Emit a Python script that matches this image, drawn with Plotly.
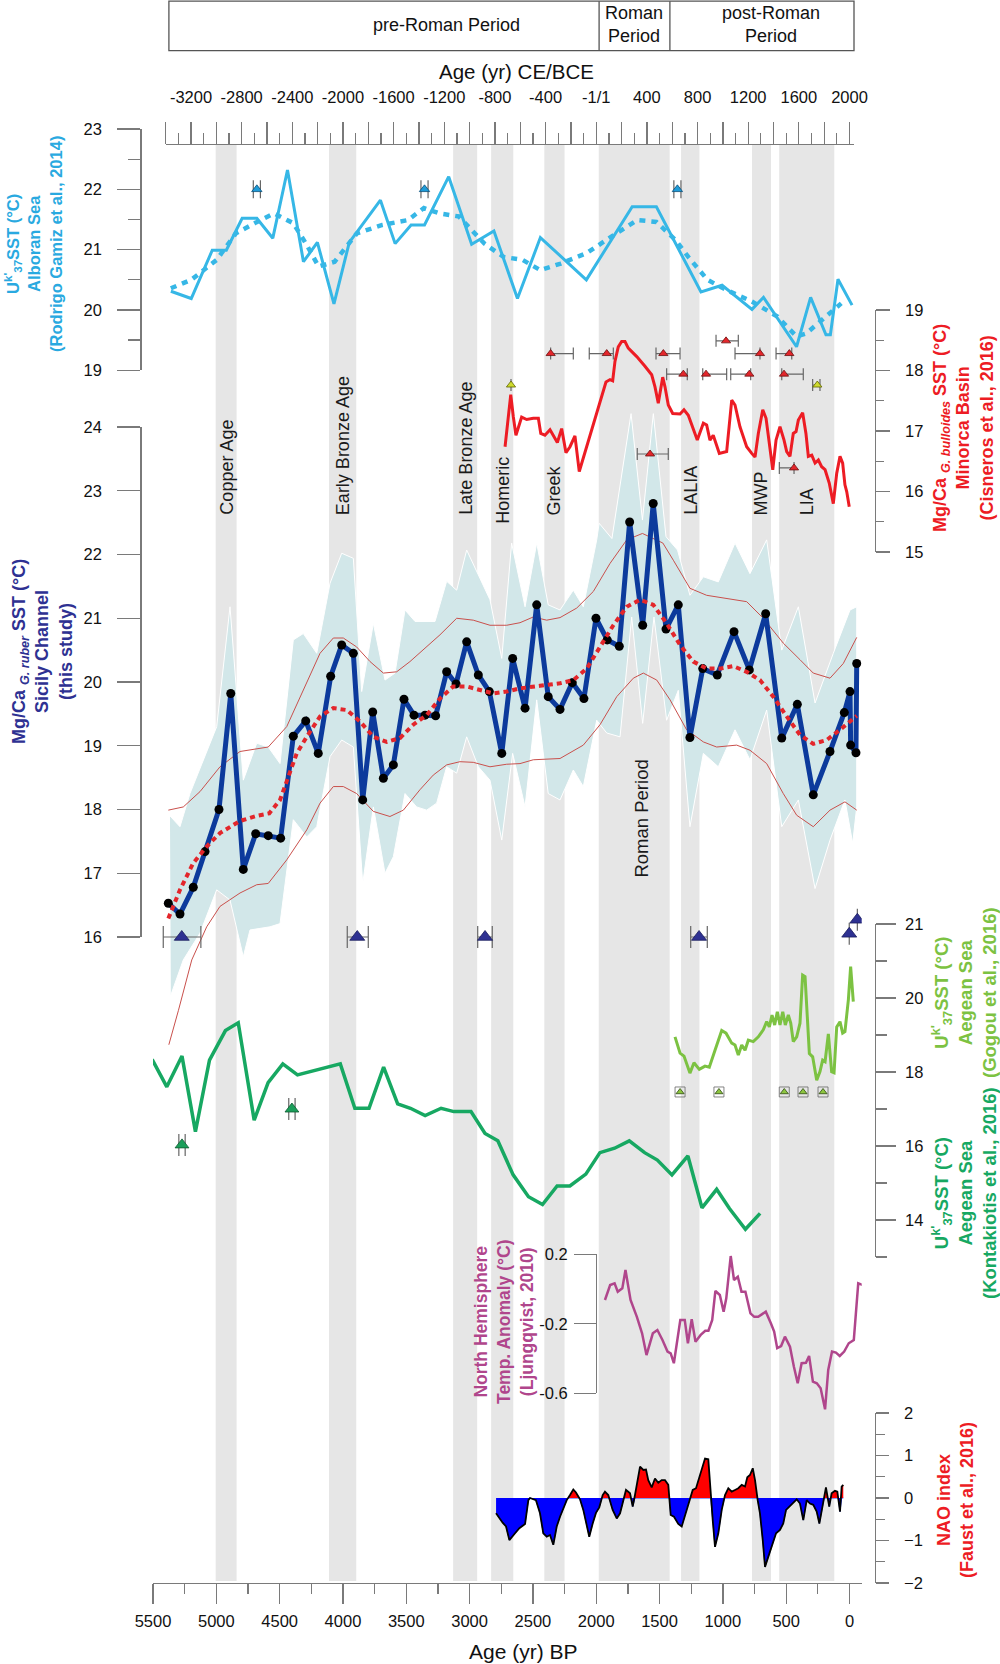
import plotly.graph_objects as go

W, H = 1000, 1664
FONT = "Liberation Sans, Arial, sans-serif"
GRAY = "#7a7a7a"

def px(x):
    return x / W

def py(y):
    return (H - y) / H

# ---- horizontal pixel mapping of the age axis (layout only) ----
BP0_PX = 849.5
PX_PER_YR = 0.126636

def bp_at(xpix):
    return (BP0_PX - xpix) / PX_PER_YR

# ======================= DATA =======================
band_names = ["Copper Age", "Early Bronze Age", "Late Bronze Age", "Homeric", "Greek",
              "Roman Period", "LALIA", "MWP", "LIA"]
band_old = [5005, 4110, 3130, 2830, 2410, 1980, 1330, 770, 555]
band_young = [4840, 3895, 2940, 2655, 2250, 1420, 1185, 620, 120]

bp_tick_values = [0, 500, 1000, 1500, 2000, 2500, 3000, 3500, 4000, 4500, 5000, 5500]
ce_label_values = [-3200, -2800, -2400, -2000, -1600, -1200, -800, -400, 0, 400, 800, 1200, 1600, 2000]
ce_label_text = ["-3200", "-2800", "-2400", "-2000", "-1600", "-1200", "-800", "-400", "-1/1",
                 "400", "800", "1200", "1600", "2000"]

# Alboran Sea UK37 SST (Rodrigo Gamiz et al., 2014)
alb_age = [5359, 5198, 5032, 4921, 4796, 4680, 4554, 4438, 4312, 4202, 4071, 3950, 3704, 3588,
           3462, 3356, 3165, 2984, 2808, 2622, 2441, 2078, 1716, 1525, 1173, 1006, 770, 679,
           418, 307, 186, 151, 91, -20]
alb_sst = [20.31, 20.19, 20.99, 20.99, 21.52, 21.52, 21.19, 22.32, 20.80, 21.12, 20.10, 21.12,
           21.82, 21.10, 21.41, 21.41, 22.21, 21.09, 21.31, 20.19, 21.20, 20.50, 21.71, 21.71,
           20.30, 20.41, 20.01, 20.21, 19.39, 20.21, 19.59, 19.59, 20.51, 20.08]
alb_smooth_age = [5359, 5198, 4997, 4846, 4695, 4544, 4393, 4292, 4192, 4066, 3890, 3689, 3487,
                  3361, 3236, 3085, 2883, 2732, 2581, 2441, 2280, 2078, 1877, 1676, 1525, 1374,
                  1273, 1122, 971, 770, 569, 418, 342, 216, 65]
alb_smooth_sst = [20.36, 20.50, 20.83, 21.27, 21.44, 21.60, 21.44, 21.10, 20.72, 20.80, 21.27,
                  21.41, 21.49, 21.69, 21.60, 21.55, 21.10, 20.88, 20.83, 20.66, 20.77, 20.94,
                  21.22, 21.49, 21.46, 21.16, 20.88, 20.50, 20.33, 20.14, 19.89, 19.56, 19.61,
                  19.83, 20.11]
alb_date_age = [4680, 3356, 1359]
alb_date_err = [28, 28, 28]
alb_date_level = [22.0, 22.0, 22.0]

# Sicily Channel Mg/Ca G. ruber SST (this study)
sic_age = [5379, 5287, 5182, 5089, 4979, 4886, 4787, 4689, 4590, 4492, 4392, 4294, 4195, 4097,
           4010, 3918, 3844, 3765, 3681, 3602, 3518, 3439, 3352, 3268, 3181, 3107, 3023, 2931,
           2844, 2746, 2660, 2562, 2470, 2379, 2286, 2189, 2097, 2002, 1913, 1818, 1736, 1633,
           1550, 1449, 1352, 1260, 1159, 1044, 912, 791, 662, 535, 412, 286, 154, 41, -4, -9,
           -51, -57]
sic_sst = [16.53, 16.36, 16.78, 17.34, 18.00, 19.82, 17.06, 17.62, 17.59, 17.55, 19.15, 19.39,
           18.88, 20.09, 20.58, 20.45, 18.15, 19.53, 18.49, 18.70, 19.73, 19.48, 19.48, 19.47,
           20.16, 19.97, 20.63, 20.11, 19.85, 18.88, 20.37, 19.59, 21.21, 19.77, 19.57, 19.99,
           19.74, 21.00, 20.66, 20.56, 22.51, 20.89, 22.80, 20.83, 21.21, 19.13, 20.21, 20.11,
           20.79, 20.19, 21.07, 19.12, 19.65, 18.23, 18.91, 19.52, 19.85, 19.01, 18.89, 20.29]
sic_smooth_age = [5379, 5287, 5182, 5076, 4971, 4813, 4681, 4582, 4497, 4444, 4365, 4286, 4181,
                  4076, 3970, 3865, 3760, 3655, 3550, 3445, 3339, 3234, 3129, 3023, 2918, 2813,
                  2707, 2602, 2444, 2286, 2181, 2075, 1970, 1865, 1759, 1654, 1549, 1444, 1338,
                  1233, 1128, 1023, 918, 812, 707, 602, 496, 391, 286, 180, 75, -30, -57]
sic_smooth_sst = [16.29, 16.74, 17.16, 17.42, 17.63, 17.82, 17.90, 17.94, 18.15, 18.46, 18.88,
                  19.14, 19.46, 19.59, 19.56, 19.38, 19.14, 19.06, 19.12, 19.33, 19.48, 19.74,
                  19.93, 19.93, 19.87, 19.82, 19.85, 19.90, 19.94, 19.98, 20.03, 20.21, 20.55,
                  20.89, 21.18, 21.29, 21.21, 20.92, 20.58, 20.32, 20.21, 20.21, 20.25, 20.16,
                  20.03, 19.77, 19.46, 19.17, 19.03, 19.09, 19.25, 19.43, 19.47]
sic_hi_age = [5379, 5261, 5129, 4971, 4813, 4590, 4444, 4286, 4181, 4076, 3997, 3892, 3786, 3681,
              3576, 3471, 3339, 3234, 3102, 2971, 2839, 2707, 2602, 2497, 2391, 2286, 2154, 2023,
              1891, 1759, 1635, 1474, 1391, 1260, 1128, 970, 812, 681, 523, 391, 286, 154, 49, -57]
sic_hi_sst = [17.99, 18.04, 18.28, 18.67, 18.91, 18.98, 19.30, 19.98, 20.45, 20.69, 20.69, 20.55,
              20.32, 20.14, 20.16, 20.32, 20.55, 20.74, 21.00, 20.97, 20.89, 20.89, 20.93, 21.02,
              20.97, 21.01, 21.16, 21.42, 21.86, 22.23, 22.33, 22.18, 21.91, 21.47, 21.36, 21.31,
              21.26, 21.00, 20.61, 20.35, 20.14, 20.06, 20.29, 20.70]
sic_lo_age = [5375, 5299, 5194, 5076, 4971, 4813, 4681, 4590, 4444, 4286, 4181, 4076, 3997, 3892,
              3760, 3629, 3523, 3392, 3287, 3181, 3076, 2971, 2839, 2707, 2602, 2497, 2286, 2102,
              1970, 1838, 1707, 1628, 1522, 1417, 1286, 1154, 1049, 891, 786, 654, 523, 417, 286,
              154, 36, -57]
sic_lo_sst = [14.31, 14.85, 15.64, 16.16, 16.48, 16.69, 16.82, 16.84, 17.21, 17.68, 18.10, 18.36,
              18.36, 18.25, 17.97, 17.89, 17.99, 18.31, 18.54, 18.70, 18.75, 18.74, 18.67, 18.71,
              18.72, 18.78, 18.80, 19.01, 19.33, 19.77, 20.06, 20.14, 20.03, 19.72, 19.25, 19.06,
              18.98, 19.01, 18.93, 18.72, 18.25, 17.91, 17.73, 17.99, 18.12, 17.99]
sic_band_hi_age = [5366, 5287, 5208, 4997, 4892, 4787, 4681, 4590, 4497, 4392, 4313, 4207, 4102,
                   4010, 3918, 3852, 3760, 3668, 3589, 3510, 3431, 3273, 3181, 3102, 3023, 2931,
                   2839, 2746, 2668, 2562, 2470, 2379, 2286, 2181, 2102, 1996, 1977, 1876, 1725,
                   1635, 1549, 1449, 1358, 1260, 1154, 1036, 904, 786, 654, 535, 404, 272, 128,
                   -4, -57]
sic_band_hi_sst = [17.90, 17.73, 18.25, 19.30, 21.18, 18.46, 19.04, 18.98, 18.72, 20.66, 20.76,
                   20.45, 21.55, 22.02, 21.94, 19.85, 20.92, 20.03, 20.14, 21.13, 20.95, 20.95,
                   21.58, 21.44, 22.07, 21.68, 21.29, 20.37, 22.18, 21.18, 22.18, 21.21, 21.13,
                   21.44, 21.18, 22.23, 22.49, 22.25, 24.21, 22.54, 24.21, 22.28, 22.07, 21.36,
                   21.65, 21.57, 22.18, 21.70, 22.23, 20.50, 21.18, 19.67, 20.45, 21.13, 21.18]
sic_band_lo_age = [5359, 5261, 5129, 4997, 4892, 4787, 4734, 4576, 4497, 4392, 4286, 4207, 4102,
                   4010, 3918, 3844, 3760, 3668, 3602, 3510, 3418, 3339, 3260, 3181, 3102, 3023,
                   2931, 2839, 2746, 2660, 2562, 2470, 2379, 2286, 2181, 2102, 1996, 1917, 1812,
                   1720, 1633, 1544, 1444, 1352, 1260, 1154, 1036, 904, 786, 654, 535, 404, 272,
                   154, 36, -25, -57]
sic_band_lo_sst = [15.09, 15.64, 16.06, 16.74, 16.58, 15.69, 16.11, 16.16, 16.21, 17.84, 17.57,
                   17.73, 18.83, 19.09, 18.98, 16.84, 18.04, 17.00, 17.26, 18.25, 18.04, 17.99,
                   18.10, 18.67, 18.57, 19.14, 18.67, 18.46, 17.52, 18.88, 18.04, 19.72, 18.25,
                   18.15, 18.62, 18.36, 19.40, 19.20, 19.14, 21.02, 19.35, 21.02, 19.40, 19.87,
                   17.73, 18.88, 18.67, 19.25, 18.78, 19.56, 17.73, 18.15, 16.76, 17.52, 18.15,
                   17.47, 18.04]
sic_date_age = [5273, 3887, 2878, 1188, 2, -62]
sic_date_err_old = [146, 79, 58, 66, 0, 0]
sic_date_err_young = [151, 87, 57, 65, 0, 0]
sic_date_level = [16.0, 16.0, 16.0, 16.0, 16.05, 16.27]

# Minorca Basin Mg/Ca G. bulloides SST (Cisneros et al., 2016)
min_age = [2720, 2675, 2655, 2634, 2589, 2549, 2497, 2457, 2438, 2405, 2365, 2307, 2273, 2239,
           2207, 2168, 2134, 2097, 2049, 1996, 1957, 1923, 1891, 1870, 1852, 1826, 1799, 1773,
           1747, 1680, 1615, 1562, 1536, 1510, 1475, 1457, 1431, 1396, 1338, 1307, 1273, 1233,
           1202, 1154, 1128, 1102, 1076, 1028, 970, 930, 904, 865, 812, 772, 746, 720, 685, 659,
           633, 606, 580, 549, 517, 496, 470, 444, 422, 404, 370, 344, 325, 298, 272, 246, 220,
           193, 160, 128, 101, 75, 54, 36, 22, 2]
min_sst = [16.74, 17.60, 17.24, 16.93, 17.23, 17.19, 17.21, 17.21, 16.96, 16.93, 17.02, 16.81,
           17.04, 16.64, 16.74, 16.92, 16.33, 16.59, 16.96, 17.32, 17.57, 17.81, 17.85, 17.83,
           18.15, 18.39, 18.48, 18.48, 18.37, 18.23, 18.07, 17.93, 17.73, 17.46, 17.89, 17.73,
           17.43, 17.29, 17.28, 17.35, 17.26, 17.02, 16.85, 17.13, 17.10, 16.85, 16.93, 16.63,
           16.66, 17.51, 17.43, 17.07, 16.74, 16.63, 16.57, 16.96, 17.35, 17.21, 16.80, 16.36,
           16.85, 17.07, 16.85, 16.66, 16.58, 16.96, 16.99, 17.18, 17.30, 16.96, 16.58, 16.60,
           16.47, 16.52, 16.41, 16.36, 16.14, 15.80, 16.30, 16.58, 16.47, 16.11, 16.00, 15.75]
min_date_age = [2360, 1917, 1470, 707, 475, 975, 1312, 1133, 791, 517, 1575, 438]
min_date_err_old = [0, 138, 58, 197, 105, 79, 132, 26, 147, 18, 101, 116]
min_date_err_young = [179, 52, 132, 0, 19, 97, 31, 163, 11, 152, 144, 0]
min_date_level = [18.28, 18.28, 18.28, 18.28, 18.28, 18.49, 17.94, 17.94, 17.94, 17.94, 16.62, 16.39]
min_tie_age = [2673, 254]
min_tie_err_old = [0, 37]
min_tie_err_young = [0, 21]
min_tie_level = [17.76, 17.76]

# Aegean Sea UK37 SST (Gogou et al., 2016)
gog_age = [1378, 1338, 1307, 1260, 1228, 1186, 1141, 1107, 1062, 1009, 975, 930, 904, 878, 851,
           825, 799, 760, 720, 681, 654, 633, 612, 591, 570, 549, 527, 507, 483, 464, 444, 417,
           391, 370, 351, 317, 291, 259, 233, 212, 193, 167, 141, 122, 101, 75, 54, 36, 9, -9, -30]
gog_sst = [18.95, 18.51, 18.43, 17.97, 18.25, 18.07, 18.16, 18.13, 18.59, 19.12, 19.05, 18.78,
           18.73, 18.46, 18.73, 18.59, 18.86, 18.82, 18.95, 19.14, 19.36, 19.22, 19.54, 19.27,
           19.63, 19.27, 19.63, 19.27, 19.54, 19.32, 18.82, 18.95, 19.32, 20.62, 20.58, 18.50,
           18.41, 17.78, 18.01, 18.32, 18.28, 19.03, 18.01, 17.98, 19.22, 19.36, 19.05, 19.09,
           19.95, 20.85, 19.90]
gog_date_age = [1338, 1031, 515, 367, 209]
gog_date_level = [17.46, 17.46, 17.46, 17.46, 17.46]

# Aegean Sea UK37 SST (Kontakiotis et al., 2016)
kon_age = [5507, 5391, 5271, 5165, 5054, 4928, 4827, 4701, 4591, 4475, 4359, 4021, 3906, 3794,
           3679, 3568, 3467, 3351, 3225, 3124, 2989, 2878, 2777, 2656, 2535, 2424, 2309, 2208,
           2082, 1971, 1855, 1739, 1618, 1517, 1402, 1276, 1165, 1049, 948, 822, 706]
kon_sst = [18.34, 17.60, 18.43, 16.39, 18.32, 19.12, 19.33, 16.70, 17.71, 18.22, 17.92, 18.22,
           17.02, 17.02, 18.13, 17.14, 17.02, 16.82, 17.02, 16.93, 16.93, 16.34, 16.14, 15.22,
           14.63, 14.42, 14.92, 14.92, 15.24, 15.82, 15.94, 16.14, 15.82, 15.62, 15.22, 15.73,
           14.33, 14.83, 14.31, 13.75, 14.18]
kon_date_age = [5271, 4403]
kon_date_err = [25, 25]
kon_date_level = [16.03, 17.0]

# North Hemisphere temperature anomaly (Ljungqvist, 2010)
nh_age = [1931, 1890, 1855, 1830, 1794, 1769, 1729, 1679, 1638, 1603, 1553, 1517, 1477, 1437,
          1412, 1387, 1336, 1301, 1276, 1246, 1216, 1175, 1139, 1114, 1084, 1059, 1024, 994, 973,
          938, 912, 882, 853, 822, 782, 752, 721, 661, 621, 595, 571, 540, 510, 470, 439, 409,
          378, 344, 319, 289, 258, 228, 193, 168, 138, 107, 77, 42, 6, -34, -69, -105]
nh_anom = [-0.063, 0.023, 0.033, -0.015, 0.004, 0.11, -0.063, -0.16, -0.255, -0.38, -0.255,
           -0.236, -0.293, -0.36, -0.37, -0.427, -0.178, -0.178, -0.312, -0.174, -0.303, -0.264,
           -0.24, -0.24, -0.178, -0.011, -0.034, -0.13, -0.053, 0.19, 0.052, 0.071, -0.015,
           -0.015, -0.14, -0.16, -0.16, -0.13, -0.197, -0.245, -0.34, -0.328, -0.274, -0.332,
           -0.447, -0.542, -0.427, -0.424, -0.385, -0.533, -0.542, -0.571, -0.692, -0.466,
           -0.36, -0.366, -0.385, -0.36, -0.312, -0.293, 0.033, 0.023]

# NAO index (Faust et al., 2016)
nao_age = [2791, 2765, 2739, 2712, 2686, 2641, 2607, 2562, 2536, 2523, 2476, 2444, 2418, 2391,
           2365, 2339, 2312, 2286, 2260, 2233, 2207, 2181, 2160, 2128, 2102, 2075, 2055, 2028,
           2002, 1976, 1949, 1931, 1905, 1870, 1838, 1812, 1786, 1765, 1733, 1712, 1694, 1676,
           1654, 1628, 1607, 1589, 1562, 1536, 1510, 1483, 1457, 1431, 1412, 1386, 1352, 1325,
           1299, 1265, 1238, 1212, 1186, 1159, 1141, 1115, 1096, 1080, 1062, 1036, 1009, 983,
           957, 930, 904, 878, 851, 825, 807, 786, 764, 746, 725, 707, 685, 667, 641, 614, 580,
           549, 523, 501, 470, 444, 417, 391, 365, 338, 312, 286, 259, 238, 212, 186, 160, 141,
           115, 96, 75, 62, 49]
nao_val = [-0.36, -0.48, -0.58, -0.67, -0.99, -0.83, -0.71, -0.61, -0.05, 0.0, -0.05, -0.36,
           -0.83, -0.91, -0.87, -1.10, -0.67, -0.44, -0.24, -0.05, 0.07, 0.20, 0.13, -0.03, -0.28,
           -0.64, -0.91, -0.60, -0.35, -0.22, 0.07, 0.15, 0.07, -0.28, -0.48, -0.36, -0.05, 0.19,
           0.11, -0.20, 0.07, 0.42, 0.74, 0.66, 0.67, 0.42, 0.25, 0.46, 0.36, 0.42, 0.42, 0.31,
           -0.40, -0.44, -0.61, -0.67, -0.40, -0.05, 0.19, 0.23, 0.50, 0.78, 0.93, 0.91, 0.0,
           -0.52, -1.15, -0.83, -0.28, 0.07, 0.23, 0.15, 0.19, 0.23, 0.31, 0.27, 0.49, 0.54, 0.70,
           0.42, -0.05, -0.36, -0.99, -1.62, -1.38, -1.15, -0.83, -0.75, -0.60, -0.28, -0.19,
           -0.13, -0.03, -0.13, -0.52, -0.05, -0.13, -0.16, -0.32, -0.60, -0.20, 0.25, -0.20,
           0.11, 0.17, 0.15, -0.32, 0.27, 0.31]

# ======================= FIGURE =======================
C_ALB = "#36B7E6"
C_ALB_T = "#29A9E0"
C_SIC = "#0C3A9C"
C_SIC_T = "#2E3192"
C_RED = "#ED1C24"
C_GOG = "#7CC242"
C_KON = "#17A862"
C_NH = "#B0468C"
C_BAND = "#E6E6E6"

fig = go.Figure()


def add_line(x, y, yaxis, color, width, dash=None, mode="lines", marker=None, xaxis="x"):
    fig.add_trace(go.Scatter(x=x, y=y, xaxis=xaxis, yaxis=yaxis, mode=mode,
                             line=dict(color=color, width=width, dash=dash),
                             marker=marker, hoverinfo="skip", showlegend=False))


def add_dates(ages, levels, yaxis, color, size, err_old=None, err_young=None, cap=6,
              outline="#333", symbol="triangle-up"):
    err = None
    if err_old is not None:
        err = dict(type="data", symmetric=False, array=err_old, arrayminus=err_young,
                   color="#666", thickness=1.2, width=cap)
    fig.add_trace(go.Scatter(x=ages, y=levels, xaxis="x", yaxis=yaxis, mode="markers",
                             marker=dict(symbol=symbol, size=size, color=color,
                                         line=dict(color=outline, width=0.8)),
                             error_x=err, hoverinfo="skip", showlegend=False))


# --- Alboran (y) ---
add_line(alb_age, alb_sst, "y", C_ALB, 3)
add_line(alb_smooth_age, alb_smooth_sst, "y", C_ALB, 4.5, dash="6px,6px")
add_dates(alb_date_age, alb_date_level, "y", "#1F9BD7", 9, alb_date_err, alb_date_err, cap=9,
          outline="#0b4f7a")

# --- Sicily (hidden data axis y3) ---
fig.add_trace(go.Scatter(x=sic_band_hi_age + sic_band_lo_age[::-1],
                         y=sic_band_hi_sst + sic_band_lo_sst[::-1],
                         xaxis="x", yaxis="y3", mode="lines", fill="toself",
                         fillcolor="rgb(210,231,233)", line=dict(color="white", width=1),
                         hoverinfo="skip", showlegend=False))
add_line(sic_hi_age, sic_hi_sst, "y3", "#C9504C", 1)
add_line(sic_lo_age, sic_lo_sst, "y3", "#C9504C", 1)
add_line(sic_age, sic_sst, "y3", C_SIC, 5, mode="lines+markers",
         marker=dict(color="black", size=9, symbol="circle"))
add_line(sic_smooth_age, sic_smooth_sst, "y3", "#E3262B", 4, dash="5px,4px")
add_dates(sic_date_age, sic_date_level, "y3", C_SIC_T, 13, sic_date_err_old, sic_date_err_young,
          cap=11, outline="#1b1d5c")

# --- Minorca (y4) ---
add_line(min_age, min_sst, "y4", C_RED, 3)
add_dates(min_date_age, min_date_level, "y4", "#E3262B", 8, min_date_err_old, min_date_err_young,
          cap=6, outline="#6b0f0f")
add_dates(min_tie_age, min_tie_level, "y4", "#CFDB2E", 8, min_tie_err_old, min_tie_err_young,
          cap=6, outline="#5f6400")

# --- Aegean (y5) ---
add_line(kon_age, kon_sst, "y5", C_KON, 3.5)
add_line(gog_age, gog_sst, "y5", C_GOG, 3)
add_dates(gog_date_age, gog_date_level, "y5", "rgba(255,255,255,0)", 10, outline="#666",
          symbol="square")
add_dates(gog_date_age, gog_date_level, "y5", "#8DC63F", 7, outline="#2d4a10")
add_dates(kon_date_age, kon_date_level, "y5", "#1B9E5A", 12, kon_date_err, kon_date_err, cap=11,
          outline="#0d5a30")

# --- NH temperature (hidden y7) ---
add_line(nh_age, nh_anom, "y7", C_NH, 2.5)

# --- NAO (y8): split into positive / negative parts at zero crossings ---
nx, nv = [nao_age[0]], [nao_val[0]]
for i in range(1, len(nao_age)):
    a0, v0, a1, v1 = nao_age[i - 1], nao_val[i - 1], nao_age[i], nao_val[i]
    if v0 * v1 < 0:
        t = v0 / (v0 - v1)
        nx.append(a0 + t * (a1 - a0))
        nv.append(0.0)
    nx.append(a1)
    nv.append(v1)
fig.add_trace(go.Scatter(x=nx, y=[min(v, 0) for v in nv], xaxis="x", yaxis="y8", mode="lines",
                         fill="tozeroy", fillcolor="#0000FF", line=dict(color="#2040ff", width=1),
                         hoverinfo="skip", showlegend=False))
fig.add_trace(go.Scatter(x=nx, y=[max(v, 0) for v in nv], xaxis="x", yaxis="y8", mode="lines",
                         fill="tozeroy", fillcolor="#FF0000", line=dict(width=0),
                         hoverinfo="skip", showlegend=False))
add_line(nao_age, nao_val, "y8", "black", 1.8)

# --- dummy traces so the visible frame axes get drawn ---
for xa, ya in [("x", "y2"), ("x", "y6"), ("x2", "y2"), ("x3", "y2")]:
    fig.add_trace(go.Scatter(x=[None], y=[None], xaxis=xa, yaxis=ya, mode="lines",
                             hoverinfo="skip", showlegend=False))

# ======================= AXES =======================
TICKFONT = dict(family=FONT, size=16.5, color="#111")
BASE = dict(showgrid=False, zeroline=False, showline=True, linecolor=GRAY, linewidth=1.3,
            ticks="outside", tickcolor=GRAY, tickwidth=1.3, tickfont=TICKFONT, fixedrange=True,
            automargin=False)


def minor(vals, length):
    return dict(tickvals=vals, ticklen=length, ticks="outside", tickcolor=GRAY, tickwidth=1.3)


def extended(v0, v1, p0, p1, pb, pt):
    k = (v1 - v0) / (p0 - p1)
    return [v0 - (pb - p0) * k, v1 + (p1 - pt) * k], [py(pb), py(pt)]


sic_rng, sic_dom = extended(16, 24, 937, 427, 1070, 400)
nh_rng, nh_dom = extended(-0.6, 0.2, 1393.3, 1254.3, 1425, 1235)

LEFT = px(140.2)
RIGHT = px(874.5)

top_dom = [px(165.7), px(854.0)]
top_rng = [2000 - bp_at(165.7), 2000 - bp_at(854.0)]
top_long_unlabelled = [v for v in range(-3400, 2001, 200) if v not in ce_label_values]
top_short = list(range(-3300, 2001, 200))

fig.update_layout(
    template="none",
    font=dict(family=FONT, size=16, color="#111"),
    width=W, height=H, margin=dict(l=0, r=0, t=0, b=0, pad=0),
    paper_bgcolor="white", plot_bgcolor="rgba(0,0,0,0)", showlegend=False,
    xaxis=dict(**BASE, domain=[px(153.0), px(861.7)], range=[bp_at(153.0), bp_at(861.7)],
               anchor="free", position=py(1583), side="bottom", tickvals=bp_tick_values,
               ticklen=20, minor=minor([v + 250 for v in bp_tick_values[:-1]], 10),
               ticklabelstandoff=3),
    xaxis2=dict(**BASE, domain=top_dom, range=top_rng, anchor="free", position=py(144),
                side="top", tickvals=ce_label_values, ticktext=ce_label_text, ticklen=22,
                minor=minor(top_short, 11), ticklabelstandoff=12),
    xaxis3=dict(**BASE, domain=top_dom, range=top_rng, anchor="free", position=py(144),
                side="top", tickvals=top_long_unlabelled, showticklabels=False, ticklen=22,
                overlaying="x2"),
    yaxis=dict(**BASE, domain=[py(370.3), py(129)], range=[19, 23], anchor="free",
               position=LEFT, side="left", tickvals=[19, 20, 21, 22, 23], ticklen=23,
               minor=minor([19.5, 20.5, 21.5, 22.5], 12), ticklabelstandoff=12),
    yaxis2=dict(**BASE, domain=[py(937), py(427)], range=[16, 24], anchor="free",
                position=LEFT, side="left", tickvals=list(range(16, 25)), ticklen=23,
                ticklabelstandoff=12),
    yaxis3=dict(domain=sic_dom, range=sic_rng, anchor="free", position=LEFT, visible=False,
                fixedrange=True, automargin=False),
    yaxis4=dict(**BASE, domain=[py(552), py(310)], range=[15, 19], anchor="free",
                position=RIGHT, side="right", tickvals=[15, 16, 17, 18, 19], ticklen=14,
                minor=minor([15.5, 16.5, 17.5, 18.5], 8), ticklabelstandoff=12),
    yaxis5=dict(**BASE, domain=[py(1257), py(924)], range=[13, 22], anchor="free",
                position=RIGHT, side="right", tickvals=[14, 16, 18, 20, 22],
                ticktext=["14", "16", "18", "20", "21"], ticklen=20,
                minor=minor([13, 15, 17, 19, 21], 11), ticklabelstandoff=6),
    yaxis6=dict(**BASE, domain=[py(1393.3), py(1254.3)], range=[-0.6, 0.2], anchor="free",
                position=px(596), side="left", tickvals=[-0.6, -0.2, 0.2],
                ticktext=["-0.6", "-0.2", "0.2"], ticklen=22, ticklabelstandoff=3),
    yaxis7=dict(domain=nh_dom, range=nh_rng, anchor="free", position=px(596), visible=False,
                fixedrange=True, automargin=False),
    yaxis8=dict(**BASE, domain=[py(1583), py(1413)], range=[-2, 2], anchor="free",
                position=RIGHT, side="right", tickvals=[-2, -1, 0, 1, 2], ticklen=13,
                minor=minor([-1.5, -0.5, 0.5, 1.5], 9), ticklabelstandoff=12),
)

# ======================= SHAPES =======================
shapes = []
for old, young in zip(band_old, band_young):
    shapes.append(dict(type="rect", xref="x", yref="paper", x0=old, x1=young,
                       y0=py(1581), y1=py(144), fillcolor=C_BAND, line=dict(width=0),
                       layer="below"))
# period table at the top
shapes.append(dict(type="rect", xref="paper", yref="paper", x0=px(168.9), x1=px(854),
                   y0=py(50.7), y1=py(1.2), line=dict(color="#555", width=1.3),
                   fillcolor="rgba(0,0,0,0)"))
for xd in (599.1, 669.9):
    shapes.append(dict(type="line", xref="paper", yref="paper", x0=px(xd), x1=px(xd),
                       y0=py(50.7), y1=py(1.2), line=dict(color="#555", width=1.3)))
fig.update_layout(shapes=shapes)

# ======================= TEXT =======================
ann = []


def text(t, x, y, size, color="#111", angle=0, xref="paper", xanchor="center", yanchor="middle",
         bold=False):
    ann.append(dict(text=("<b>%s</b>" % t) if bold else t, x=x, y=y, xref=xref, yref="paper",
                    showarrow=False, textangle=angle, xanchor=xanchor, yanchor=yanchor,
                    align="center", font=dict(family=FONT, size=size, color=color)))


text("pre-Roman Period", px(446), py(25), 18)
text("Roman<br>Period", px(634), py(25), 18)
text("post-Roman<br>Period", px(771), py(25), 18)
text("Age (yr) CE/BCE", px(516), py(72), 20.5)
text("Age (yr) BP", px(523), py(1651), 21)

label_bottom = {"Homeric": 526}
for name, old, young in zip(band_names, band_old, band_young):
    if name == "Roman Period":
        continue
    text(name, (old + young) / 2, py(label_bottom.get(name, 517)), 18, color="#1a1a1a",
         angle=-90, xref="x", yanchor="bottom")
text("Roman Period", 1650, py(819), 18.5, color="#1a1a1a", angle=-90, xref="x")

UK = "U<sup>k'</sup><sub>37</sub>SST (°C)"
text(UK + "<br>Alboran Sea<br>(Rodrigo Gamiz et al., 2014)", px(33), py(244), 16.5, C_ALB_T,
     angle=-90, bold=True)
text("Mg/Ca <sub><i>G. ruber</i></sub> SST (°C)<br>Sicily Channel<br>(this study)", px(42),
     py(652), 18, C_SIC_T, angle=-90, bold=True)
text("Mg/Ca <sub><i>G. bulloides</i></sub> SST (°C)<br>Minorca Basin<br>(Cisneros et al., 2016)",
     px(964), py(428), 18, C_RED, angle=-90, bold=True)
text(UK + "<br>Aegean Sea<br>(Gogou et al., 2016)", px(964), py(993), 18.5, C_GOG, angle=-90,
     bold=True)
text(UK + "<br>Aegean Sea<br>(Kontakiotis et al., 2016)", px(964), py(1193), 18.5, C_KON,
     angle=-90, bold=True)
text("North Hemisphere<br>Temp. Anomaly (°C)<br>(Ljungqvist, 2010)", px(504), py(1322), 17.5,
     C_NH, angle=-90, bold=True)
text("NAO index<br>(Faust et al., 2016)", px(955), py(1500), 18, C_RED, angle=-90, bold=True)

fig.update_layout(annotations=ann)

fig.write_html(
    "out.html",
    config={"displayModeBar": False, "staticPlot": True},
    post_script="document.documentElement.style.margin='0';document.body.style.margin='0';"
                "document.body.style.padding='0';document.body.style.overflow='hidden';",
)
